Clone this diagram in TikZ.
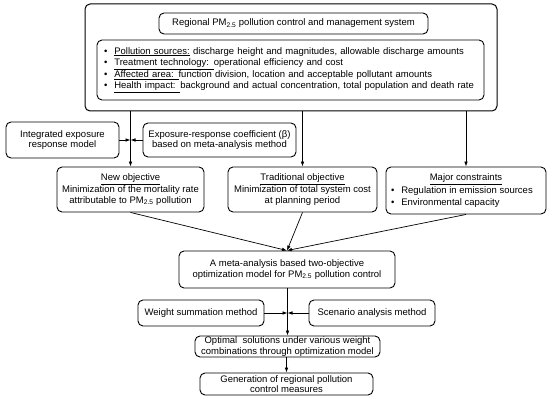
\documentclass[tikz,border=0pt]{standalone}
\usepackage{fontspec}
\setmainfont{Liberation Sans}
\usetikzlibrary{arrows.meta,calc}
\begin{document}
\begin{tikzpicture}[x=1pt,y=-1pt,
  box/.style={draw,rounded corners=5pt,line width=0.9pt,inner sep=0pt,align=center,
     font=\fontsize{9.5}{10.8}\selectfont},
  arr/.style={-{Latex[length=5pt,width=3.6pt]},line width=0.7pt},
  ln/.style={line width=0.7pt}]
\useasboundingbox (0,0) rectangle (550,401);
\node[box,line width=1pt,minimum width=412pt,minimum height=107pt] (outer) at (291,57.5) {};
\node[box,minimum width=269pt,minimum height=21pt] (title) at (293.5,23.5)
  {Regional PM\textsubscript{2.5} pollution control and management system};
\node[box,minimum width=387pt,minimum height=60pt,text width=373pt,align=left,
  font=\fontsize{9.5}{11.6}\selectfont] (inner) at (290.5,70)
  {\textbullet\hspace{7pt}\underline{Pollution sources:} discharge height and magnitudes, allowable discharge amounts\\
   \textbullet\hspace{7pt}\underline{Treatment technology: }operational efficiency and cost\\
   \textbullet\hspace{7pt}\underline{Affected area: }function division, location and acceptable pollutant amounts\\
   \textbullet\hspace{7pt}\underline{Health impact: }background and actual concentration, total population and death rate};
\node[box,minimum width=113pt,minimum height=36pt] (integ) at (62.5,140)
  {Integrated exposure\\response model};
\node[box,minimum width=153pt,minimum height=34pt] (expo) at (219.5,140)
  {Exposure-response coefficient (β)\\based on meta-analysis method};
\node[box,minimum width=147pt,minimum height=45pt] (newobj) at (130.5,189.5)
  {\underline{New objective}\\Minimization of the mortality rate\\attributable to PM\textsubscript{2.5} pollution};
\node[box,minimum width=149pt,minimum height=45pt] (trad) at (302.5,189.5)
  {\underline{Traditional objective}\\Minimization of total system cost\\at planning period};
\node[box,minimum width=160pt,minimum height=47pt] (major) at (466,190.5)
  {\underline{Major constraints}\\[1pt]
   \makebox[150pt][l]{\textbullet\hspace{7pt}Regulation in emission sources}\\[1pt]
   \makebox[150pt][l]{\textbullet\hspace{7pt}Environmental capacity}};
\node[box,minimum width=216pt,minimum height=37pt] (meta) at (287,269.5)
  {A meta-analysis based two-objective\\optimization model for PM\textsubscript{2.5} pollution control};
\node[box,minimum width=126pt,minimum height=26pt] (weight) at (201,313)
  {Weight summation method};
\node[box,minimum width=126pt,minimum height=26pt] (scen) at (372,313)
  {Scenario analysis method};
\node[box,minimum width=185pt,minimum height=21pt,font=\fontsize{9.5}{10.5}\selectfont] (optim) at (287.5,346.5)
  {Optimal\ \ solutions under various weight\\combinations through optimization model};
\node[box,minimum width=173pt,minimum height=22pt,font=\fontsize{9.5}{10.5}\selectfont] (gen) at (286.5,384)
  {Generation of regional pollution\\control measures};
% connectors
\draw[arr] (newobj.north |- outer.south) -- (newobj.north);
\draw[arr] (trad.north |- outer.south) -- (trad.north);
\draw[arr] (major.north |- outer.south) -- (major.north);
\draw[arr] (integ.east) -- (integ.east -| newobj.north);
\draw[arr] (expo.west) -- (expo.west -| newobj.north);
\draw[arr] (newobj.south) -- (meta.north);
\draw[arr] (trad.south) -- (meta.north);
\draw[arr] (major.south) -- (meta.north);
\draw[arr] (meta.south -| optim.north) -- (optim.north);
\draw[arr] (weight.east) -- (weight.east -| optim.north);
\draw[arr] (scen.west) -- (scen.west -| optim.north);
\draw[arr] (optim.south -| gen.north) -- (gen.north);
\end{tikzpicture}
\end{document}
